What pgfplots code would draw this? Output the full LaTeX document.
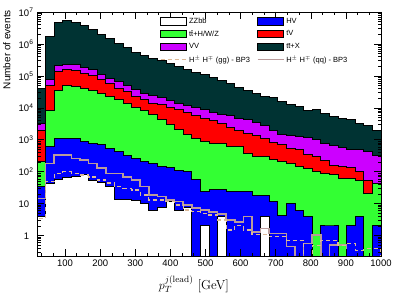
\documentclass[border=0pt]{standalone}
\usepackage{pgfplots}
\pgfplotsset{compat=1.18}
\usepackage{pgfplotstable}
\usepackage{fontspec}
\setsansfont{Liberation Sans}

\definecolor{cTTX}{RGB}{0,51,51}
\definecolor{cVV}{RGB}{204,0,255}
\definecolor{cTV}{RGB}{255,0,0}
\definecolor{cTTH}{RGB}{51,255,51}
\definecolor{cHV}{RGB}{0,0,255}
\definecolor{cZZ}{RGB}{255,255,255}
\definecolor{cQQ}{RGB}{185,155,155}
\definecolor{cGG}{RGB}{220,185,150}

% cumulative (stacked) bin contents, bins of 24.5 GeV from 20 to 1000
\pgfplotstableread{
x      tot     vv      tv      tth     hv      zz      qq      gg
20     1e-4    1e-4    1e-4    1e-4    1e-4    1e-4    1e-4    1e-4
20     4.17e4  3.2e3   1.9e3   204     34      3.9     14.7    3.5
44.5   1.70e6  7.5e4   4.9e4   8.5e3   600     43      183     49
69     4.79e6  2.05e5  1.35e5  3.6e4   1120    58      333     89
93.5   5.37e6  2.33e5  1.55e5  4.9e4   1120    65      333     100
118    4.79e6  2.2e5   1.44e5  4.7e4   1070    69      263     89
142.5  3.72e6  1.87e5  1.2e5   4.1e4   910     79      234     79
167    2.75e6  1.55e5  1.0e5   3.5e4   790     52      183     69
191.5  2.04e6  1.13e5  7.5e4   2.75e4  690     47      129     55
216    1.45e6  8.5e4   5.6e4   2.24e4  540     34      89      44
240.5  1.05e6  6.6e4   4.1e4   1.78e4  430     13.6    89      34
265    7.76e5  4.9e4   3.2e4   1.38e4  330     13.6    69      30
289.5  5.5e5   3.8e4   2.24e4  1.05e4  260     13      55      27
314    4.37e5  2.9e4   1.78e4  8.5e3   204     10.2    34      18.6
338.5  3.55e5  2.35e4  1.41e4  6.0e3   182     6.3     18.6    12.9
363    2.95e5  2.04e4  1.23e4  4.3e3   145     7.6     16.6    12.9
387.5  2.4e5   1.66e4  1.0e4   3.0e3   135     11.5    12.9    11.5
412    2.0e5   1.41e4  8.6e3   2.14e3  112     6.3     11.5    9.1
436.5  1.58e5  1.15e4  6.9e3   1.51e3  100     7.8     9.1     6.3
461    1.26e5  1.0e4   5.6e3   1.07e3  59      1e-4    7.2     5.6
485.5  1.07e5  8.6e3   4.8e3   910     23.5    2.0     6.3     5.0
510    8.9e4   7.4e3   3.9e3   780     27      1e-4    5.5     4.4
534.5  7.1e4   6.4e3   3.2e3   780     27      3.9     4.7     3.1
559    5.6e4   5.6e3   2.5e3   600     23.5    1e-4    3.1     1.5
583.5  4.4e4   4.8e3   2.0e3   600     23.5    1e-4    2.7     2.1
608    3.55e4  4.2e3   1.62e3  380     23.5    1e-4    3.9     1.5
632.5  2.8e4   3.4e3   1.32e3  295     18.6    1e-4    1.3     1.1
657    2.34e4  2.9e3   1.07e3  295     18.6    3.9     1.7     1.1
681.5  2.14e4  1.9e3   850     234     11.5    1e-4    1.17    0.93
706    1.58e4  1.5e3   690     204     4.4     1e-4    1.17    0.93
730.5  1.23e4  1.32e3  550     182     10.2    1e-4    0.45    0.72
755    1.10e4  1.23e3  480     145     6.3     1e-4    1e-4    0.72
779.5  8.5e3   1.15e3  350     129     4.1     1e-4    0.57    1e-4
804    9.1e3   1.05e3  310     100     1e-4    1e-4    1.05    0.5
828.5  6.8e3   740     230     89      2.0     1e-4    1e-4    0.72
853    5.2e3   640     162     79      2.0     1e-4    0.5     0.72
877.5  4.7e3   590     141     62      1e-4    1e-4    0.5     0.5
902    4.2e3   510     132     62      2.0     1e-4    1e-4    0.57
926.5  3.3e3   480     105     55      4.1     1e-4    1e-4    0.35
951    2.9e3   420     55      21      1e-4    1e-4    1e-4    0.4
975.5  2.0e3   330     44      44      2.0     1e-4    1e-4    0.4
1000   2.0e3   330     44      44      2.0     1e-4    1e-4    0.4
1000   1e-4    1e-4    1e-4    1e-4    1e-4    1e-4    1e-4    1e-4
}\histdata

\pgfplotsset{
  boxlegend/.style={legend image code/.code={\draw[##1, line width=0.8pt] (0pt,-3.8pt) rectangle (26pt,3.8pt);}},
  linelegend/.style={legend image code/.code={\draw[##1] (0pt,0pt) -- (26pt,0pt);}},
}

\begin{document}
\begin{tikzpicture}
\begin{axis}[
  scale only axis, width=344pt, height=244pt,
  xmin=20, xmax=1000, ymode=log, ymin=0.23, ymax=1e7,
  axis on top, axis line style={line width=0.8pt},
  tick align=inside, tick style={black, line width=0.6pt},
  major tick length=7pt, minor tick length=3.5pt,
  xtick={100,200,300,400,500,600,700,800,900,1000},
  xticklabels={100,200,300,400,500,600,700,800,900,1000},
  minor xtick={33.33,66.67,133.33,166.67,233.33,266.67,333.33,366.67,433.33,466.67,533.33,566.67,633.33,666.67,733.33,766.67,833.33,866.67,933.33,966.67},
  ytick={1,10,100,1000,1e4,1e5,1e6,1e7},
  yticklabels={1\phantom{\textsuperscript{2}},10\phantom{\textsuperscript{2}},10\textsuperscript{2},10\textsuperscript{3},10\textsuperscript{4},10\textsuperscript{5},10\textsuperscript{6},10\textsuperscript{7}},
  minor ytick={0.3,0.4,0.5,0.6,0.7,0.8,0.9,2,3,4,5,6,7,8,9,20,30,40,50,60,70,80,90,200,300,400,500,600,700,800,900,2000,3000,4000,5000,6000,7000,8000,9000,2e4,3e4,4e4,5e4,6e4,7e4,8e4,9e4,2e5,3e5,4e5,5e5,6e5,7e5,8e5,9e5,2e6,3e6,4e6,5e6,6e6,7e6,8e6,9e6},
  xticklabel style={font=\sffamily\fontsize{9.5}{10}\selectfont},
  yticklabel style={font=\sffamily\fontsize{9.5}{10}\selectfont},
  xlabel={$p_T^{j(\mathrm{lead})}$ [GeV]},
  xlabel style={at={(rel axis cs:0.456,0)}, anchor=base, yshift=-33pt, font=\fontsize{13}{15}\selectfont},
  legend columns=2,
  legend cell align=left,
  legend style={at={(0.348,0.992)}, anchor=north west, draw=none, fill=none,
    font=\sffamily\fontsize{7.5}{8}\selectfont, row sep=1.3pt,
    /tikz/column 2/.style={column sep=5pt}},
]
\addplot[const plot, fill=cTTX, draw=black, line width=1pt, forget plot] table[x=x,y=tot]{\histdata};
\addplot[const plot, fill=cVV, draw=black, line width=1pt, forget plot] table[x=x,y=vv]{\histdata};
\addplot[const plot, fill=cTV, draw=black, line width=1pt, forget plot] table[x=x,y=tv]{\histdata};
\addplot[const plot, fill=cTTH, draw=black, line width=1pt, forget plot] table[x=x,y=tth]{\histdata};
\addplot[const plot, fill=cHV, draw=black, line width=1pt, forget plot] table[x=x,y=hv]{\histdata};
\addplot[const plot, fill=cZZ, draw=black, line width=1pt, forget plot] table[x=x,y=zz]{\histdata};
\addplot[const plot, draw=cQQ, line width=1.5pt, forget plot] table[x=x,y=qq]{\histdata};
\addplot[const plot, draw=cGG, line width=1.3pt, dash pattern=on 4pt off 3pt, forget plot] table[x=x,y=gg]{\histdata};

\addlegendimage{boxlegend, fill=cZZ, draw=black}
\addlegendentry{ZZbb}
\addlegendimage{boxlegend, fill=cHV, draw=black}
\addlegendentry{HV}
\addlegendimage{boxlegend, fill=cTTH, draw=black}
\addlegendentry{t\={t}+H/W/Z}
\addlegendimage{boxlegend, fill=cTV, draw=black}
\addlegendentry{tV}
\addlegendimage{boxlegend, fill=cVV, draw=black}
\addlegendentry{VV}
\addlegendimage{boxlegend, fill=cTTX, draw=black}
\addlegendentry{t\={t}+X}
\addlegendimage{linelegend, draw=cGG, line width=1.2pt, dash pattern=on 4pt off 3pt}
\addlegendentry{H\textsuperscript{$\pm$} H\textsuperscript{$\mp$} (gg) - BP3}
\addlegendimage{linelegend, draw=cQQ, line width=1.2pt}
\addlegendentry{H\textsuperscript{$\pm$} H\textsuperscript{$\mp$} (qq) - BP3}
\end{axis}
\pgfresetboundingbox
\useasboundingbox ([shift={(-37pt,-46pt)}]current axis.south west) rectangle ([shift={(18pt,12pt)}]current axis.north east);
\node[rotate=90, anchor=north east, inner sep=0pt, font=\sffamily\fontsize{10}{12}\selectfont]
  at ([shift={(-34pt,2pt)}]current axis.north west) {Number of events};
\end{tikzpicture}
\end{document}
